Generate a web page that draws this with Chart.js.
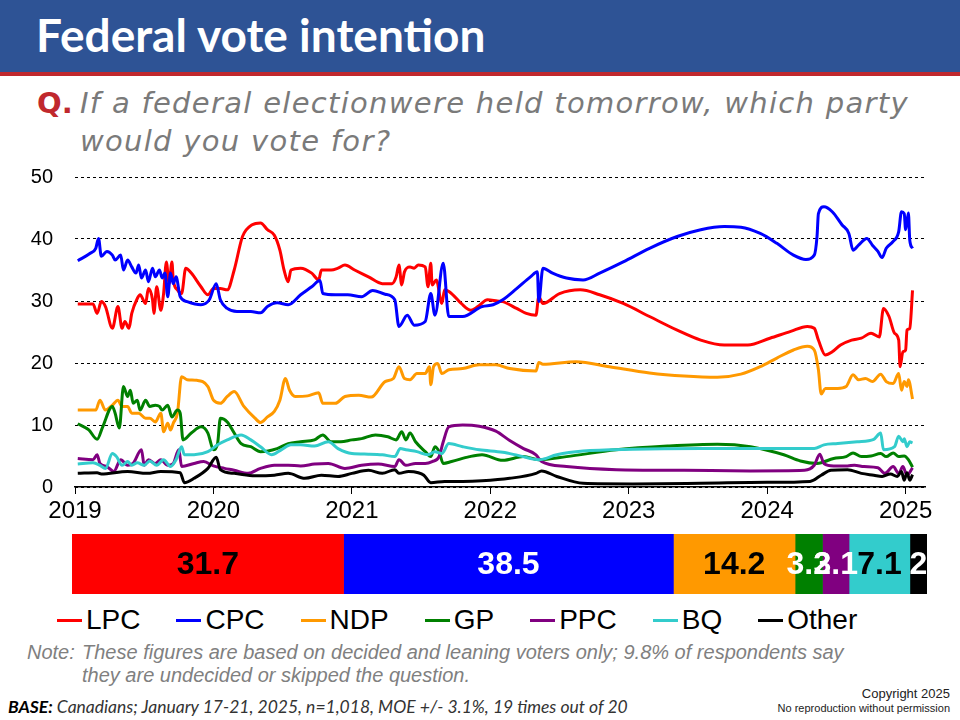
<!DOCTYPE html>
<html>
<head>
<meta charset="utf-8">
<script src="https://cdn.jsdelivr.net/npm/chart.js@4.4.1/dist/chart.umd.min.js"></script>
<style>
  body { margin: 0; width: 960px; height: 720px; background: #fff; overflow: hidden; position: relative; font-family: "Liberation Sans", Arial, sans-serif; }
  #band { position: absolute; left: 0; top: 0; width: 960px; height: 72px; background: #2E5395; }
  #bandLine { position: absolute; left: 0; top: 72px; width: 960px; height: 4px; background: #C0282D; }
  #title { position: absolute; left: 36px; top: 8px; font-family: Lato, sans-serif; font-weight: bold; font-size: 46px; line-height: 54px; color: #fff; }
  #question { position: absolute; left: 37px; top: 84px; font-family: "DejaVu Sans", sans-serif; font-weight: 200; font-size: 29px; letter-spacing: 1.3px; line-height: 38px; color: #7a7a7a; font-style: italic; }
  #question .q { color: #C0282D; font-style: normal; font-weight: bold; letter-spacing: 0; display: inline-block; width: 43px; }
  #question .l2 { padding-left: 43px; }
  #lineChart { position: absolute; left: 0; top: 160px; }
  #barChart { position: absolute; left: 72px; top: 534px; }
  #legend { position: absolute; left: 57px; top: 603px; display: flex; font-size: 28px; line-height: 34px; color: #000; }
  #legend .item { display: flex; align-items: center; margin-right: 36px; }
  #legend .mark { width: 25px; height: 3px; margin-right: 4px; }
  #note { position: absolute; left: 27px; top: 641px; font-size: 20px; line-height: 23px; font-style: italic; color: #808080; }
  #note .lab { display: inline-block; width: 55px; }
  #note .l2 { padding-left: 55px; }
  #base { position: absolute; left: 8px; top: 696px; font-family: Lato, sans-serif; font-size: 17.5px; font-style: italic; color: #333; }
  #base b { color: #000; }
  #copy { position: absolute; right: 10px; top: 686px; text-align: right; font-family: "Liberation Sans Narrow", "Liberation Sans", Arial, sans-serif; color: #222; }
  #copy .c1 { font-size: 13px; line-height: 15px; }
  #copy .c2 { font-size: 11px; line-height: 14px; }
</style>
</head>
<body>
<div id="band"></div>
<div id="bandLine"></div>
<div id="title">Federal vote intention</div>
<div id="question"><span class="q">Q.</span>If a federal electionwere held tomorrow, which party<br><span class="l2">would you vote for?</span></div>
<canvas id="lineChart" width="960" height="370"></canvas>
<canvas id="barChart" width="855" height="60"></canvas>
<div id="legend"></div>
<div id="note"><span class="lab">Note:</span>These figures are based on decided and leaning voters only; 9.8% of respondents say<br><span class="l2">they are undecided or skipped the question.</span></div>
<div id="base"><b>BASE:</b> Canadians; January 17-21, 2025, n=1,018, MOE +/- 3.1%, 19 times out of 20</div>
<div id="copy"><div class="c1">Copyright 2025</div><div class="c2">No reproduction without permission</div></div>

<script>
// party names and colours
var parties = ['LPC', 'CPC', 'NDP', 'GP', 'PPC', 'BQ', 'Other'];
var colors = ['#FF0000', '#0000FF', '#FF9900', '#008000', '#800080', '#33CCCC', '#000000'];
var labelColors = ['#000', '#fff', '#000', '#fff', '#fff', '#000', '#fff'];

// latest wave (stacked bar)
var latest = [31.7, 38.5, 14.2, 3.2, 3.1, 7.1, 2];

// axis ticks
var yearTicks = [2019, 2020, 2021, 2022, 2023, 2024, 2025];
var pctTicks = [0, 10, 20, 30, 40, 50];

// trend lines: [year, percent]
var lpc = [[2019.02,29.5],[2019.13,29.5],[2019.16,28.0],[2019.19,29.9],[2019.22,29.1],[2019.27,25.6],[2019.31,29.1],[2019.34,25.6],[2019.36,26.7],[2019.39,25.6],[2019.41,28.0],[2019.45,30.4],[2019.47,31.0],[2019.51,29.6],[2019.53,32.0],[2019.56,30.2],[2019.57,28.0],[2019.59,32.3],[2019.62,28.5],[2019.64,31.2],[2019.66,36.3],[2019.68,32.8],[2019.70,36.3],[2019.71,33.4],[2019.74,31.8],[2019.77,31.2],[2019.80,35.3],[2019.84,34.5],[2019.91,32.3],[2019.96,31.0],[2020.00,32.0],[2020.05,32.0],[2020.10,31.8],[2020.15,35.0],[2020.21,40.4],[2020.28,42.3],[2020.34,42.6],[2020.39,41.5],[2020.44,40.6],[2020.48,38.2],[2020.51,35.0],[2020.54,33.1],[2020.56,35.0],[2020.63,35.3],[2020.71,34.5],[2020.76,33.4],[2020.78,35.0],[2020.85,35.0],[2020.90,35.3],[2020.95,35.8],[2021.02,35.0],[2021.12,33.9],[2021.22,32.8],[2021.29,32.8],[2021.32,33.9],[2021.34,35.8],[2021.36,32.6],[2021.38,34.7],[2021.42,35.5],[2021.45,35.3],[2021.48,35.8],[2021.53,35.5],[2021.55,32.3],[2021.57,36.1],[2021.58,32.6],[2021.61,33.4],[2021.65,29.6],[2021.67,31.8],[2021.72,31.2],[2021.79,29.6],[2021.86,28.5],[2021.91,29.1],[2021.98,30.2],[2022.05,30.0],[2022.09,29.9],[2022.19,28.8],[2022.26,28.0],[2022.33,27.7],[2022.35,30.7],[2022.38,29.6],[2022.50,31.2],[2022.65,31.8],[2022.79,31.0],[2022.96,29.6],[2023.15,27.5],[2023.35,25.3],[2023.52,23.7],[2023.69,22.9],[2023.86,22.9],[2024.02,24.0],[2024.17,25.1],[2024.29,25.9],[2024.34,25.6],[2024.37,23.7],[2024.42,21.3],[2024.47,21.8],[2024.53,22.9],[2024.61,23.7],[2024.68,24.0],[2024.75,24.8],[2024.81,24.2],[2024.84,28.8],[2024.88,27.5],[2024.92,24.8],[2024.95,23.7],[2024.96,19.4],[2024.98,21.8],[2025.00,22.1],[2025.01,25.3],[2025.03,25.6],[2025.05,31.7]];
var cpc = [[2019.02,36.5],[2019.11,37.7],[2019.15,38.5],[2019.17,40.1],[2019.19,37.2],[2019.23,38.0],[2019.27,37.4],[2019.29,36.6],[2019.33,37.4],[2019.35,35.0],[2019.38,36.6],[2019.41,35.5],[2019.44,34.5],[2019.46,35.8],[2019.48,33.7],[2019.51,35.0],[2019.53,33.1],[2019.56,35.3],[2019.58,33.9],[2019.61,35.0],[2019.63,33.7],[2019.65,34.5],[2019.67,30.7],[2019.69,34.5],[2019.71,32.8],[2019.73,33.9],[2019.76,30.7],[2019.81,29.9],[2019.91,29.4],[2019.97,30.2],[2020.02,32.8],[2020.05,30.2],[2020.10,28.8],[2020.17,28.3],[2020.27,28.3],[2020.34,28.1],[2020.39,29.1],[2020.46,29.7],[2020.54,29.4],[2020.63,31.0],[2020.71,32.3],[2020.77,33.3],[2020.79,31.2],[2020.88,31.0],[2020.97,31.0],[2021.07,30.7],[2021.15,31.7],[2021.24,31.1],[2021.31,30.2],[2021.34,25.9],[2021.40,27.7],[2021.45,26.1],[2021.53,26.7],[2021.57,31.2],[2021.60,27.7],[2021.66,36.1],[2021.70,27.5],[2021.80,27.5],[2021.94,29.1],[2022.02,29.4],[2022.09,30.2],[2022.19,32.0],[2022.29,33.9],[2022.34,34.7],[2022.35,29.9],[2022.38,35.3],[2022.45,34.5],[2022.55,33.7],[2022.67,33.4],[2022.79,34.5],[2022.96,36.3],[2023.15,38.5],[2023.35,40.4],[2023.52,41.5],[2023.69,42.0],[2023.81,41.9],[2023.95,40.9],[2024.07,39.3],[2024.19,37.4],[2024.28,36.7],[2024.34,37.4],[2024.36,40.4],[2024.37,44.1],[2024.41,45.2],[2024.47,44.4],[2024.54,42.3],[2024.59,40.9],[2024.62,38.2],[2024.66,39.0],[2024.72,40.1],[2024.76,39.0],[2024.80,38.0],[2024.83,37.0],[2024.86,38.5],[2024.91,39.6],[2024.95,41.2],[2024.97,44.4],[2024.99,44.1],[2025.00,41.5],[2025.02,44.2],[2025.03,39.8],[2025.05,38.5]];
var ndp = [[2019.02,12.4],[2019.15,12.4],[2019.18,14.0],[2019.22,12.4],[2019.27,13.2],[2019.31,14.0],[2019.34,13.0],[2019.38,13.0],[2019.41,11.9],[2019.46,11.9],[2019.51,11.1],[2019.54,11.1],[2019.58,10.5],[2019.62,11.9],[2019.64,8.9],[2019.67,10.3],[2019.69,9.2],[2019.71,10.3],[2019.74,11.9],[2019.77,17.8],[2019.81,17.3],[2019.88,17.2],[2019.96,16.2],[2020.00,14.0],[2020.05,13.5],[2020.10,14.6],[2020.15,15.4],[2020.22,13.0],[2020.30,11.1],[2020.34,10.4],[2020.39,11.3],[2020.44,12.2],[2020.48,14.0],[2020.52,17.5],[2020.55,15.6],[2020.59,14.6],[2020.68,14.7],[2020.76,15.2],[2020.79,13.5],[2020.88,13.5],[2020.95,14.6],[2021.05,14.8],[2021.14,14.5],[2021.24,17.0],[2021.30,17.5],[2021.34,19.4],[2021.38,17.5],[2021.42,17.3],[2021.47,18.3],[2021.53,18.3],[2021.56,19.4],[2021.57,16.5],[2021.59,19.4],[2021.62,19.9],[2021.65,18.3],[2021.70,18.9],[2021.80,19.1],[2021.92,19.7],[2022.04,19.7],[2022.14,19.1],[2022.33,18.7],[2022.35,20.1],[2022.38,19.8],[2022.62,20.2],[2022.86,19.4],[2023.15,18.4],[2023.40,17.9],[2023.64,17.7],[2023.81,18.2],[2023.95,19.4],[2024.07,20.8],[2024.19,22.1],[2024.29,22.7],[2024.34,22.1],[2024.37,18.9],[2024.39,15.0],[2024.42,15.9],[2024.51,15.9],[2024.57,16.2],[2024.62,18.1],[2024.66,17.3],[2024.71,17.5],[2024.76,17.0],[2024.82,18.2],[2024.86,17.0],[2024.91,16.7],[2024.95,18.3],[2024.97,15.6],[2024.99,17.0],[2025.01,16.2],[2025.02,17.3],[2025.05,14.2]];
var gp = [[2019.02,10.2],[2019.10,9.2],[2019.16,7.7],[2019.20,9.7],[2019.27,13.0],[2019.29,11.9],[2019.32,9.5],[2019.35,16.2],[2019.38,14.6],[2019.40,15.6],[2019.42,13.5],[2019.45,14.0],[2019.47,12.4],[2019.51,14.0],[2019.54,13.0],[2019.58,13.2],[2019.61,13.0],[2019.63,12.4],[2019.67,13.2],[2019.70,11.3],[2019.74,12.4],[2019.76,11.9],[2019.78,7.6],[2019.84,8.7],[2019.91,9.7],[2019.96,8.7],[2020.00,6.0],[2020.03,7.0],[2020.05,11.1],[2020.10,10.5],[2020.15,8.7],[2020.20,7.0],[2020.27,6.5],[2020.34,5.7],[2020.46,6.2],[2020.54,7.0],[2020.63,7.3],[2020.73,7.6],[2020.79,8.4],[2020.85,7.3],[2020.92,7.3],[2021.00,7.6],[2021.07,7.8],[2021.17,8.4],[2021.26,8.1],[2021.32,7.6],[2021.36,8.9],[2021.39,7.6],[2021.42,8.7],[2021.46,7.3],[2021.53,5.7],[2021.57,4.9],[2021.60,6.5],[2021.63,5.7],[2021.66,3.8],[2021.72,4.1],[2021.85,4.9],[2021.94,5.2],[2022.09,4.3],[2022.24,4.9],[2022.35,4.4],[2022.55,4.9],[2022.91,6.0],[2023.28,6.6],[2023.64,6.9],[2023.88,6.5],[2024.12,5.2],[2024.24,4.2],[2024.36,3.8],[2024.48,4.6],[2024.57,4.9],[2024.62,5.5],[2024.68,4.9],[2024.75,5.0],[2024.82,5.4],[2024.86,4.9],[2024.91,5.5],[2024.95,4.9],[2024.99,5.0],[2025.02,4.4],[2025.05,3.2]];
var ppc = [[2019.02,4.6],[2019.13,4.4],[2019.16,5.2],[2019.18,3.8],[2019.23,3.3],[2019.28,2.5],[2019.33,4.4],[2019.38,3.5],[2019.42,3.8],[2019.48,6.0],[2019.50,3.5],[2019.53,4.4],[2019.58,3.8],[2019.62,4.4],[2019.67,3.5],[2019.71,3.8],[2019.75,6.0],[2019.77,3.3],[2019.86,3.8],[2019.93,4.1],[2020.00,3.4],[2020.08,3.0],[2020.15,2.7],[2020.25,2.2],[2020.34,3.0],[2020.44,3.5],[2020.54,3.5],[2020.63,3.4],[2020.73,3.7],[2020.83,3.8],[2020.95,3.0],[2021.07,3.5],[2021.19,3.7],[2021.31,3.3],[2021.34,4.4],[2021.39,3.5],[2021.46,3.8],[2021.53,3.8],[2021.58,4.1],[2021.63,4.9],[2021.66,7.3],[2021.70,9.7],[2021.80,10.0],[2021.92,9.8],[2022.04,9.0],[2022.14,7.5],[2022.24,6.2],[2022.33,5.2],[2022.37,4.1],[2022.55,3.3],[2022.91,2.8],[2023.40,2.7],[2023.88,2.6],[2024.27,2.7],[2024.34,3.5],[2024.38,5.3],[2024.41,3.8],[2024.48,3.4],[2024.58,3.4],[2024.63,3.5],[2024.70,3.3],[2024.80,3.1],[2024.85,2.2],[2024.91,3.3],[2024.95,2.2],[2024.98,3.3],[2025.01,1.9],[2025.05,3.1]];
var bq = [[2019.02,3.7],[2019.13,3.9],[2019.18,3.5],[2019.22,3.0],[2019.27,5.4],[2019.30,4.9],[2019.34,3.5],[2019.38,4.1],[2019.41,3.5],[2019.45,3.9],[2019.50,3.5],[2019.54,4.2],[2019.59,3.5],[2019.64,4.4],[2019.69,3.3],[2019.73,4.4],[2019.77,6.5],[2019.79,5.2],[2019.86,5.2],[2019.96,5.7],[2020.03,6.8],[2020.10,7.6],[2020.20,8.4],[2020.27,7.6],[2020.34,6.5],[2020.42,5.2],[2020.49,6.0],[2020.56,6.8],[2020.63,6.8],[2020.73,6.6],[2020.83,7.3],[2020.90,6.2],[2021.00,5.4],[2021.12,5.3],[2021.22,5.2],[2021.31,4.9],[2021.35,6.2],[2021.39,6.0],[2021.47,5.7],[2021.55,5.2],[2021.60,5.7],[2021.65,5.4],[2021.70,7.0],[2021.80,6.5],[2021.92,6.0],[2022.09,5.6],[2022.20,5.1],[2022.35,4.4],[2022.48,5.2],[2022.67,5.8],[2023.03,6.1],[2023.52,6.2],[2024.00,6.2],[2024.34,6.2],[2024.41,6.8],[2024.51,7.0],[2024.65,7.3],[2024.77,7.7],[2024.82,8.7],[2024.84,6.0],[2024.92,6.5],[2024.95,8.2],[2024.98,7.3],[2024.99,7.8],[2025.01,6.5],[2025.03,7.3],[2025.05,7.1]];
var other = [[2019.02,2.2],[2019.16,2.3],[2019.19,2.1],[2019.38,2.5],[2019.52,2.2],[2019.62,2.5],[2019.76,2.3],[2019.79,0.7],[2019.86,1.4],[2019.96,3.0],[2020.02,4.8],[2020.05,2.8],[2020.15,2.2],[2020.30,1.8],[2020.44,1.9],[2020.54,2.2],[2020.66,1.4],[2020.78,1.9],[2020.90,1.7],[2021.00,2.2],[2021.12,2.7],[2021.22,2.2],[2021.31,2.8],[2021.34,2.2],[2021.41,2.5],[2021.48,2.3],[2021.52,1.9],[2021.57,0.7],[2021.67,0.9],[2021.80,0.9],[2021.94,1.0],[2022.14,1.4],[2022.33,2.2],[2022.37,2.6],[2022.48,1.7],[2022.67,0.6],[2023.03,0.5],[2023.52,0.6],[2024.00,0.75],[2024.31,0.9],[2024.39,1.9],[2024.46,2.7],[2024.58,2.8],[2024.68,2.2],[2024.77,1.9],[2024.83,1.7],[2024.89,2.1],[2024.94,1.7],[2024.97,2.5],[2024.99,1.1],[2025.01,2.3],[2025.03,1.1],[2025.05,2.0]];

var series = [lpc, cpc, ndp, gp, ppc, bq, other];

// line chart
var lineSets = [];
for (var i = 0; i < parties.length; i++) {
	lineSets.push({
		label: parties[i],
		data: series[i].map(function(p){ return {x: p[0], y: p[1]}; }),
		borderColor: colors[i],
		backgroundColor: colors[i],
		borderWidth: 3,
		pointRadius: 0,
		cubicInterpolationMode: 'monotone',
		order: parties.length - i   // later parties drawn on top
	});
}

new Chart(document.getElementById('lineChart'), {
	type: 'line',
	data: { datasets: lineSets },
	options: {
		responsive: false,
		animation: false,
		events: [],
		layout: { padding: { left: 0, right: 35, top: 17, bottom: 0 } },
		plugins: { legend: { display: false }, tooltip: { enabled: false } },
		scales: {
			x: {
				type: 'linear',
				min: 2019,
				max: 2025.14,
				afterFit: function(s){ s.height = 43; },
				afterBuildTicks: function(s){ s.ticks = yearTicks.map(function(v){ return {value: v}; }); },
				ticks: {
					color: '#000',
					padding: 3,
					maxRotation: 0,
					font: { family: '"Liberation Sans", Arial, sans-serif', size: 24 },
					callback: function(v){ return String(v); }
				},
				grid: { drawOnChartArea: false, drawTicks: true, tickLength: 7, color: '#000', lineWidth: 1 },
				border: { display: true, color: '#000', width: 1.5 }
			},
			y: {
				min: 0,
				max: 50,
				// fixed width, and no extra top/bottom room for the tick labels
				afterFit: function(s){ s.width = 75; s.paddingTop = 0; s.paddingBottom = 0; },
				afterBuildTicks: function(s){ s.ticks = pctTicks.map(function(v){ return {value: v}; }); },
				ticks: {
					color: '#000',
					padding: 22,
					font: { family: '"Liberation Sans", Arial, sans-serif', size: 20 }
				},
				grid: { color: '#000', lineWidth: 1, drawTicks: false },
				border: { display: false, dash: [3, 3] }
			}
		}
	}
});

// labels in the middle of each bar segment
var segmentLabels = {
	id: 'segmentLabels',
	afterDatasetsDraw: function(chart){
		var ctx = chart.ctx;
		ctx.save();
		ctx.font = 'bold 32px "Liberation Sans", Arial, sans-serif';
		ctx.textAlign = 'center';
		ctx.textBaseline = 'middle';
		chart.data.datasets.forEach(function(ds, i){
			var el = chart.getDatasetMeta(i).data[0];
			ctx.fillStyle = labelColors[i];
			ctx.fillText(String(ds.data[0]), (el.x + el.base) / 2, el.y + 1);
		});
		ctx.restore();
	}
};

var barSets = [];
for (var j = 0; j < parties.length; j++) {
	barSets.push({
		label: parties[j],
		data: [latest[j]],
		backgroundColor: colors[j],
		borderWidth: 0,
		barPercentage: 1,
		categoryPercentage: 1
	});
}

var total = latest.reduce(function(a, b){ return a + b; }, 0);

new Chart(document.getElementById('barChart'), {
	type: 'bar',
	data: { labels: ['latest'], datasets: barSets },
	plugins: [segmentLabels],
	options: {
		indexAxis: 'y',
		responsive: false,
		animation: false,
		events: [],
		layout: { padding: 0 },
		plugins: { legend: { display: false }, tooltip: { enabled: false } },
		scales: {
			x: { stacked: true, min: 0, max: total, display: false },
			y: { stacked: true, display: false }
		}
	}
});

// legend
var legend = document.getElementById('legend');
parties.forEach(function(p, k){
	var item = document.createElement('div');
	item.className = 'item';
	var mark = document.createElement('span');
	mark.className = 'mark';
	mark.style.background = colors[k];
	var txt = document.createElement('span');
	txt.textContent = p;
	item.appendChild(mark);
	item.appendChild(txt);
	legend.appendChild(item);
});
</script>
</body>
</html>
